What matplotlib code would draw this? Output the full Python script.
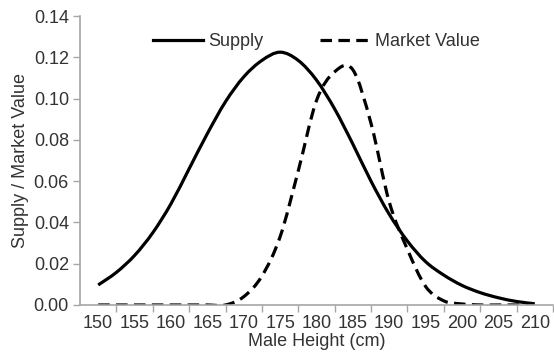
import matplotlib
matplotlib.use("Agg")
import matplotlib.pyplot as plt
from matplotlib.path import Path
from matplotlib.patches import PathPatch
from matplotlib.lines import Line2D
from matplotlib.ticker import MultipleLocator, FixedLocator, FormatStrFormatter

plt.rcParams["font.family"] = ["Liberation Sans", "DejaVu Sans"]

# values
heights = [150, 152.5, 155, 157.5, 160, 162.5, 165, 167.5, 170, 172.5,
           175, 177.5, 180, 182.5, 185, 187.5, 190, 192.5, 195, 197.5,
           200, 202.5, 205, 207.5, 210]
supply = [0.0097, 0.0158, 0.024, 0.035, 0.049, 0.066, 0.083, 0.0985, 0.1105,
          0.1185, 0.1225, 0.1185, 0.109, 0.095, 0.078, 0.060, 0.044, 0.031,
          0.021, 0.0145, 0.0095, 0.006, 0.0035, 0.0017, 0.0006]
market = [0, 0, 0, 0, 0, 0, 0, 0, 0.004, 0.014,
          0.033, 0.065, 0.099, 0.113, 0.114, 0.088, 0.050, 0.027, 0.009, 0.002,
          0.0005, 0, 0, 0, 0]

x_labels = list(range(150, 215, 5))

text_col = "#333333"
axis_col = "#a6a6a6"
fs = 13


def smooth_path(xs, ys):
    # Excel style smoothed line: Catmull-Rom segments drawn as cubic Beziers
    pts = list(zip(xs, ys))
    n = len(pts)
    verts = [pts[0]]
    codes = [Path.MOVETO]
    for i in range(n - 1):
        p0 = pts[i - 1] if i > 0 else pts[i]
        p1 = pts[i]
        p2 = pts[i + 1]
        p3 = pts[i + 2] if i + 2 < n else pts[i + 1]
        c1 = (p1[0] + (p2[0] - p0[0]) / 6, p1[1] + (p2[1] - p0[1]) / 6)
        c2 = (p2[0] - (p3[0] - p1[0]) / 6, p2[1] - (p3[1] - p1[1]) / 6)
        verts += [c1, c2, p2]
        codes += [Path.CURVE4] * 3
    return Path(verts, codes)


fig = plt.figure(figsize=(5.54, 3.57), dpi=100)
ax = fig.add_axes([0.1444, 0.1457, 0.8536, 0.8093])

ax.add_patch(PathPatch(smooth_path(heights, supply), fill=False,
                       edgecolor="black", lw=2.3, capstyle="butt"))
ax.add_patch(PathPatch(smooth_path(heights, market), fill=False,
                       edgecolor="black", lw=2.3,
                       linestyle=(0, (3.6, 2.0))))

ax.set_xlim(147.5, 212.5)
ax.set_ylim(0, 0.14)

ax.xaxis.set_major_locator(FixedLocator(x_labels))
ax.xaxis.set_minor_locator(FixedLocator([v + 2.5 for v in x_labels]))
ax.yaxis.set_major_locator(MultipleLocator(0.02))
ax.yaxis.set_major_formatter(FormatStrFormatter("%.2f"))

ax.tick_params(axis="x", which="major", length=0, pad=7,
               labelsize=fs, labelcolor=text_col)
ax.tick_params(axis="x", which="minor", length=5, width=1, color=axis_col,
               direction="out")
ax.tick_params(axis="y", length=5, width=1, color=axis_col, direction="out",
               labelsize=fs, labelcolor=text_col, pad=3)

for s in ["top", "right"]:
    ax.spines[s].set_visible(False)
for s in ["left", "bottom"]:
    ax.spines[s].set_color(axis_col)
    ax.spines[s].set_linewidth(1.2)

ax.set_xlabel("Male Height (cm)", fontsize=fs, color=text_col, labelpad=1)
ax.set_ylabel("Supply / Market Value", fontsize=fs, color=text_col,
              labelpad=3)

handles = [Line2D([], [], color="black", lw=2.3),
           Line2D([], [], color="black", lw=2.3, dashes=(3.6, 2.0))]
leg = ax.legend(handles, ["Supply", "Market Value"], loc="upper center",
                ncol=2, frameon=False, fontsize=fs, handlelength=2.8,
                handletextpad=0.28, columnspacing=3.1, borderaxespad=0.55)
for t in leg.get_texts():
    t.set_color(text_col)

fig.savefig("out.png", dpi=100)
